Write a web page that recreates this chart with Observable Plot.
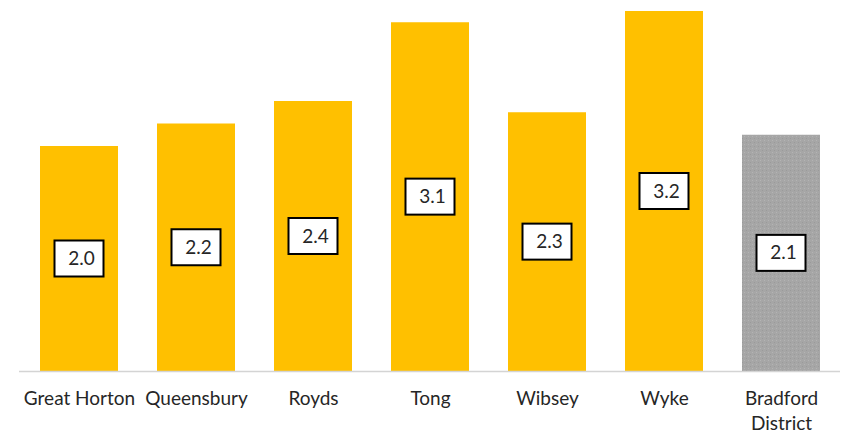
<!DOCTYPE html>
<html>
<head>
<meta charset="utf-8">
<script src="https://cdn.jsdelivr.net/npm/d3@7"></script>
<script src="https://cdn.jsdelivr.net/npm/@observablehq/plot@0.6"></script>
<style>
  html, body { margin: 0; padding: 0; background: #fff; }
  #chart svg { display: block; }
</style>
</head>
<body>
<div id="chart"></div>
<script>
const wards = ["Great Horton", "Queensbury", "Royds", "Tong", "Wibsey", "Wyke", "Bradford District"];
const values = [2.0, 2.2, 2.4, 3.1, 2.3, 3.2, 2.1];
const groups = ["ward", "ward", "ward", "ward", "ward", "ward", "district"];
const tickLabels = ["Great Horton", "Queensbury", "Royds", "Tong", "Wibsey", "Wyke", "Bradford\nDistrict"];

const data = wards.map((w, i) => ({ward: w, value: values[i], group: groups[i], label: tickLabels[i]}));

const chart = Plot.plot({
  width: 845,
  height: 435,
  marginLeft: 19,
  marginRight: 5,
  marginTop: 11,
  marginBottom: 64,
  style: {fontFamily: "Lato, 'Open Sans', sans-serif", color: "#262626", background: "#fff"},
  x: {domain: wards, paddingInner: 0.335, paddingOuter: 0.1675, axis: null, label: null},
  y: {domain: [0, 3.2], axis: null, label: null},
  color: {domain: ["ward", "district"], range: ["#FFC000", "url(#greyDots)"]},
  marks: [
    Plot.barY(data, {x: "ward", y: "value", fill: "group"}),
    Plot.ruleY([0], {stroke: "#d4d4d4", strokeWidth: 1.5}),
    Plot.rect(data, {
      x: "ward",
      y1: d => d.value / 2,
      y2: d => d.value / 2,
      insetLeft: 14.5, insetRight: 14.5,
      insetTop: -18, insetBottom: -18,
      fill: "white", stroke: "black", strokeWidth: 2
    }),
    Plot.text(data, {
      x: "ward", y: d => d.value / 2,
      text: d => d.value.toFixed(1),
      fontSize: 19, fill: "#262626", dx: 2
    }),
    Plot.axisX({
      label: null,
      tickSize: 0, tickPadding: 16,
      tickFormat: (d) => tickLabels[wards.indexOf(d)],
      fontSize: 19, lineHeight: 1.3, fill: "#262626"
    })
  ]
});

// textured grey fill for the district bar
const svgNS = "http://www.w3.org/2000/svg";
const defs = document.createElementNS(svgNS, "defs");
defs.innerHTML = `
  <pattern id="greyDots" patternUnits="userSpaceOnUse" width="4" height="4">
    <rect width="4" height="4" fill="#a6a6a6"/>
    <rect x="0" y="0" width="1" height="1" fill="#b4b4b4"/>
    <rect x="2" y="2" width="1" height="1" fill="#9a9a9a"/>
  </pattern>`;
chart.insertBefore(defs, chart.firstChild);

document.getElementById("chart").appendChild(chart);
</script>
</body>
</html>
